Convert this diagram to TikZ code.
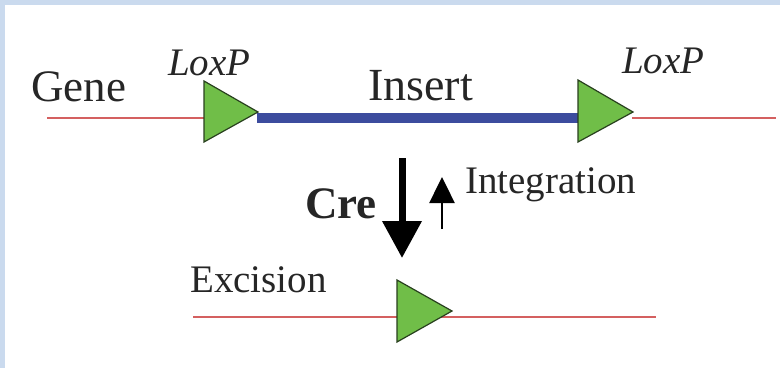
\documentclass[tikz,border=0pt]{standalone}
\usepackage{fontspec}
\setmainfont{Liberation Serif}
\usetikzlibrary{arrows.meta}
\definecolor{bordercol}{RGB}{202,218,238}
\definecolor{genered}{RGB}{212,96,96}
\definecolor{insertblue}{RGB}{60,76,158}
\definecolor{loxgreen}{RGB}{112,190,72}
\definecolor{loxedge}{RGB}{40,64,30}
\tikzset{
  lbl/.style={anchor=base west, inner sep=0pt, text=black!85},
  redline/.style={draw=genered, line width=2.5pt},
  blueline/.style={draw=insertblue, line width=10pt},
  loxtri/.style={fill=loxgreen, draw=loxedge, line width=1.2pt, line join=miter},
  crearrow/.style={draw=black, line width=7pt, -{Triangle[width=38pt,length=37pt]}},
  intarrow/.style={draw=black, line width=2.5pt, -{Triangle[width=25pt,length=26pt]}}
}
\begin{document}
\begin{tikzpicture}[x=1pt,y=-1pt]
\useasboundingbox (0,0) rectangle (780,368);
\fill[bordercol] (0,0) rectangle (780,368);
\fill[white] (5,5) rectangle (780,368);

% coordinates of the top construct
\coordinate (gstart) at (47,118);
\coordinate (l1in) at (205,118);
\coordinate (l1tip) at (257,118);
\coordinate (l2in) at (580,118);
\coordinate (l2tip) at (632,118);
\coordinate (gend) at (776,118);

\draw[redline] (gstart) -- (l1in);
\draw[blueline] (l1tip) -- (l2in);
\draw[redline] (l2tip) -- (gend);

\draw[loxtri] (204,81) -- (204,142) -- (258,112) -- cycle;
\draw[loxtri] (578,80) -- (578,142) -- (633,112) -- cycle;

% bottom construct
\coordinate (bstart) at (193,317);
\coordinate (bend) at (656,317);
\draw[redline] (bstart) -- (bend);
\draw[loxtri] (397,280) -- (397,342) -- (452,311) -- cycle;

% arrows
\coordinate (creA) at (402,158);
\coordinate (creB) at (402,258);
\draw[crearrow] (creA) -- (creB);
\coordinate (intA) at (442,229);
\coordinate (intB) at (442,177);
\draw[intarrow] (intA) -- (intB);

% labels
\node[lbl, font=\fontsize{45}{50}\selectfont] (gene) at (31,101) {Gene};
\node[lbl, font=\fontsize{39}{44}\selectfont\itshape] (lox1) at (168,75) {LoxP};
\node[lbl, font=\fontsize{46}{50}\selectfont] (ins) at (368,100) {Insert};
\node[lbl, font=\fontsize{39}{44}\selectfont\itshape] (lox2) at (622,73) {LoxP};
\node[lbl, font=\fontsize{45}{50}\selectfont\bfseries] (cre) at (305,218) {Cre};
\node[lbl, font=\fontsize{39}{44}\selectfont] (integ) at (465,193) {Integration};
\node[lbl, font=\fontsize{39}{44}\selectfont] (exc) at (190,292) {Excision};
\end{tikzpicture}
\end{document}
